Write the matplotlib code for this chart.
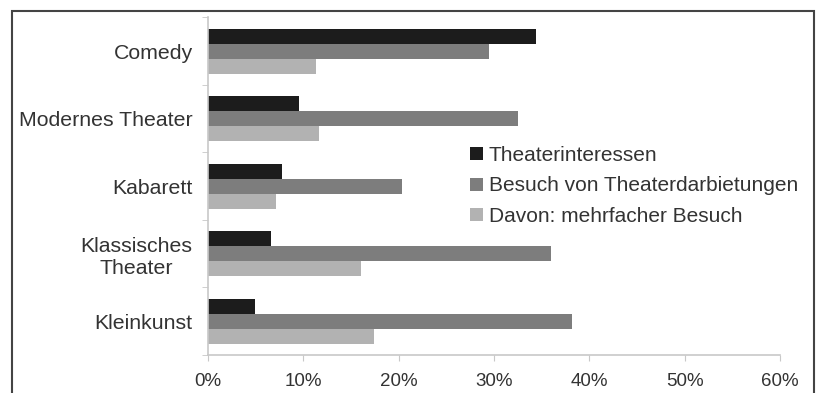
import numpy as np
import matplotlib.pyplot as plt
from matplotlib.patches import Rectangle
from matplotlib.ticker import FuncFormatter, FixedLocator

plt.rcParams['font.family'] = ['Liberation Sans', 'DejaVu Sans']

categories = ['Comedy', 'Modernes Theater', 'Kabarett', 'Klassisches\nTheater', 'Kleinkunst']
interesse = [34.4, 9.6, 7.8, 6.6, 4.9]
besuch = [29.5, 32.5, 20.4, 36.0, 38.2]
mehrfach = [11.3, 11.7, 7.1, 16.1, 17.4]
series_names = ['Theaterinteressen', 'Besuch von Theaterdarbietungen', 'Davon: mehrfacher Besuch']
colors = ['#1c1c1c', '#7d7d7d', '#b2b2b2']

fig = plt.figure(figsize=(8.21, 3.93), dpi=100)
ax = fig.add_axes([0.2533, 0.0967, 0.6967, 0.8588])

y = np.arange(len(categories))
h = 0.22
for k, (vals, name, c) in enumerate(zip([interesse, besuch, mehrfach], series_names, colors)):
    ax.barh(y + (k - 1) * h, vals, height=h, color=c, label=name)

ax.set_ylim(len(categories) - 0.5, -0.5)
ax.set_xlim(0, 60)
ax.set_xticks(np.arange(0, 61, 10))
ax.xaxis.set_major_formatter(FuncFormatter(lambda v, p: f'{v:.0f}%'))
ax.set_yticks(y)
ax.set_yticklabels(categories, multialignment='center')
ax.yaxis.set_minor_locator(FixedLocator(np.arange(-0.5, len(categories), 1)))

for s in ['top', 'right']:
    ax.spines[s].set_visible(False)
for s in ['left', 'bottom']:
    ax.spines[s].set_color('#c8c8c8')
    ax.spines[s].set_linewidth(1.2)

ax.tick_params(axis='y', which='major', length=0, pad=11, labelsize=15.3, labelcolor='#333333')
ax.tick_params(axis='y', which='minor', length=4, color='#c8c8c8')
ax.tick_params(axis='x', length=4, color='#c8c8c8', pad=9, labelsize=13.5, labelcolor='#333333')

ax.legend(loc='upper left', bbox_to_anchor=(0.44, 0.65), frameon=False, fontsize=15,
          handlelength=0.6, handleheight=0.6, handletextpad=0.3, labelspacing=0.55,
          borderpad=0, labelcolor='#333333')

# outer frame around the chart
fig.patches.append(Rectangle((12 / 821, -0.05), 802 / 821, 1.05 - 11 / 393,
                             transform=fig.transFigure, fill=False,
                             edgecolor='#444444', linewidth=1.5))

fig.savefig('out.png', dpi=100)
